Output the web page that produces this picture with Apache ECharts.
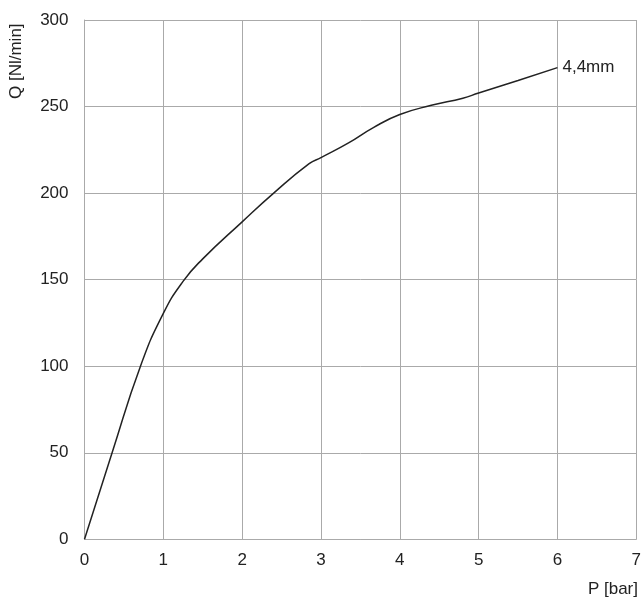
<!DOCTYPE html>
<html>
<head>
<meta charset="utf-8">
<script src="https://cdn.jsdelivr.net/npm/echarts@6/dist/echarts.min.js"></script>
<style>
  html, body { margin: 0; padding: 0; background: #fff; }
  #chart { width: 644px; height: 602px; }
</style>
</head>
<body>
<div id="chart"></div>
<script>
// P [bar] vs Q [Nl/min]
const pressure = [0, 0.35, 0.71, 1.0, 1.25, 1.5, 2.0, 2.4, 2.85, 3.0, 3.35, 3.67, 4.0, 4.4, 4.8, 5.0, 5.5, 6.0]
const flow = [0, 50, 100, 130.5, 149, 162, 183.4, 200, 217, 220.5, 229, 238, 245.4, 250.7, 254.8, 257.8, 265, 272.5]
const curveLabel = '4,4mm'
const xName = 'P [bar]'
const yName = 'Q [Nl/min]'

const font = 'Liberation Sans, Arial, sans-serif'
const chart = echarts.init(document.getElementById('chart'))

chart.setOption({
  animation: false,
  grid: { left: 84.5, right: 4.5, top: 20, bottom: 62.7, containLabel: false },
  xAxis: {
    type: 'value',
    min: 0,
    max: 7,
    interval: 1,
    axisLine: { show: true, lineStyle: { color: '#aaa', width: 1 } },
    axisTick: { show: false },
    axisLabel: { color: '#222', fontSize: 17, fontFamily: font, margin: 13 },
    splitLine: { show: true, lineStyle: { color: '#aaa', width: 1 } },
  },
  yAxis: {
    type: 'value',
    min: 0,
    max: 300,
    interval: 50,
    axisLine: { show: true, lineStyle: { color: '#aaa', width: 1 } },
    axisTick: { show: false },
    axisLabel: { color: '#222', fontSize: 17, fontFamily: font, margin: 16 },
    splitLine: { show: true, lineStyle: { color: '#aaa', width: 1 } },
  },
  graphic: [
    {
      type: 'text',
      right: 6,
      top: 581,
      style: { text: xName, fill: '#222', font: '17px ' + font },
    },
    {
      type: 'text',
      x: 8,
      y: 99,
      rotation: Math.PI / 2,
      style: { text: yName, fill: '#222', font: '17px ' + font, textVerticalAlign: 'top' },
    },
  ],
  series: [
    {
      type: 'line',
      data: pressure.map((p, i) => [p, flow[i]]),
      smooth: 0.5,
      showSymbol: false,
      lineStyle: { color: '#222', width: 1.5 },
      endLabel: {
        show: true,
        formatter: curveLabel,
        color: '#222',
        fontSize: 17,
        fontFamily: font,
        distance: 5,
      },
    },
  ],
})
</script>
</body>
</html>
